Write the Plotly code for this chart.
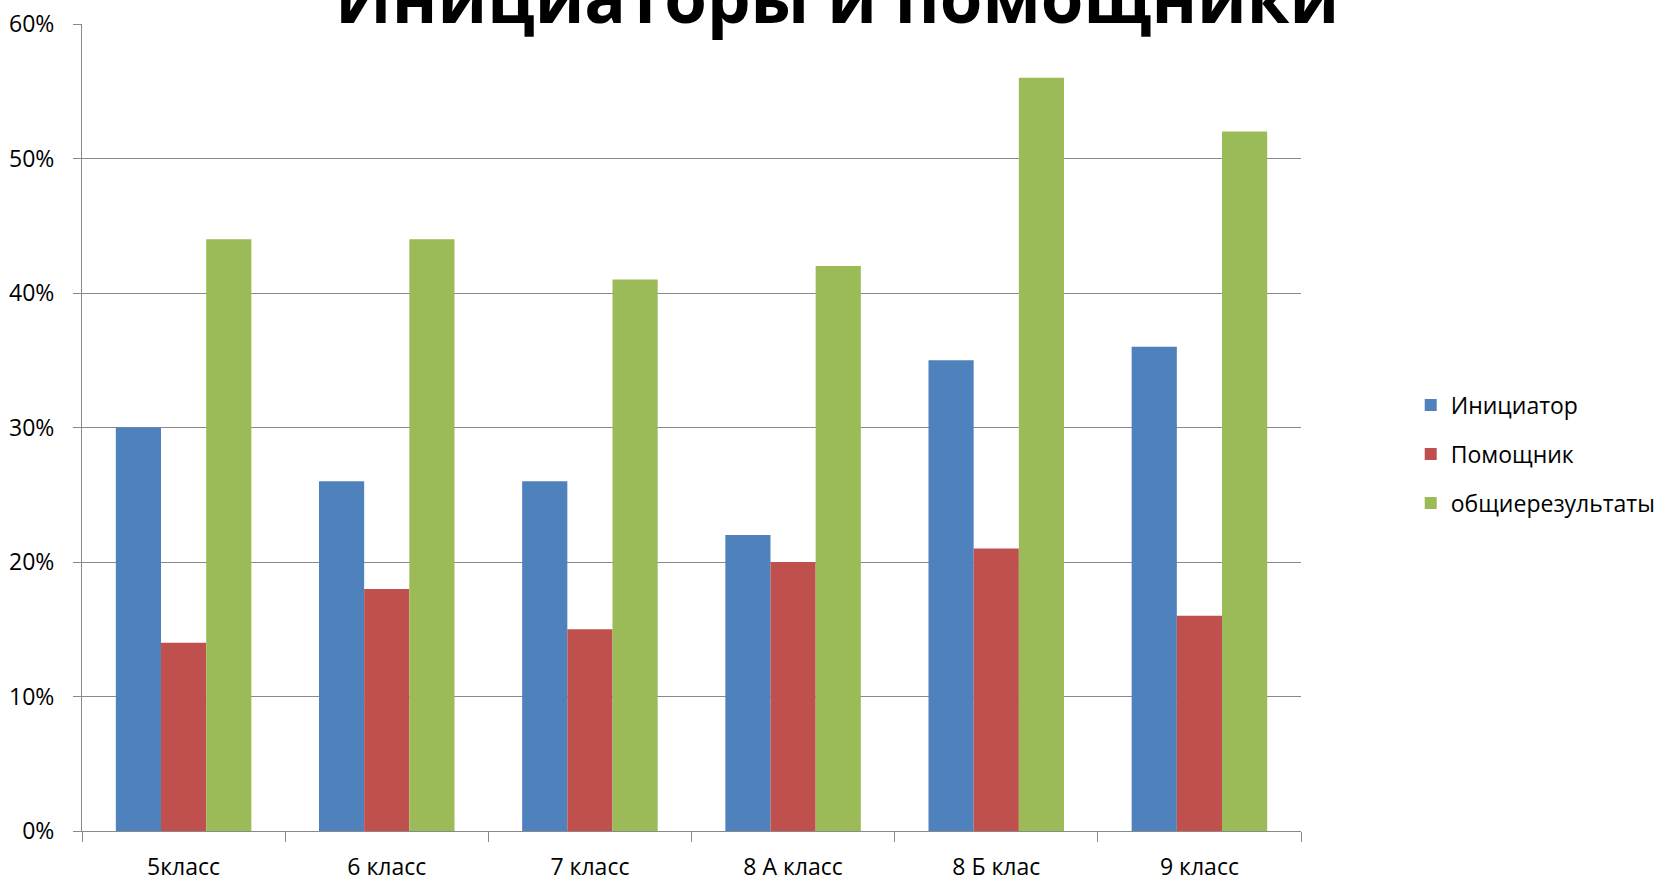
import plotly.graph_objects as go

categories = ["5класс", "6 класс", "7 класс", "8 А класс", "8 Б клас", "9 класс"]
series_names = ["Инициатор", "Помощник", "общиерезультаты"]
initiator = [0.30, 0.26, 0.26, 0.22, 0.35, 0.36]
helper = [0.14, 0.18, 0.15, 0.20, 0.21, 0.16]
overall = [0.44, 0.44, 0.41, 0.42, 0.56, 0.52]
colors = ["#4F81BD", "#C0504D", "#9BBB59"]
title_text = "Инициаторы и помощники"

FONT = "Open Sans"
FS = 23

fig = go.Figure()
for i, (name, vals) in enumerate(zip(series_names, [initiator, helper, overall])):
    fig.add_trace(go.Bar(
        x=categories, y=vals, name=name,
        marker=dict(color=colors[i], line=dict(width=0)),
        legendgroup=name,
    ))

fig.update_layout(
    width=1659, height=877,
    paper_bgcolor="white", plot_bgcolor="white",
    margin=dict(l=82, r=358, t=24, b=46, autoexpand=False),
    barmode="group", bargap=0.333, bargroupgap=0,
    font=dict(family=FONT, size=FS, color="black"),
    showlegend=True,
    legend=dict(
        x=1.090, xanchor="left", y=0.467, yanchor="middle",
        font=dict(family=FONT, size=FS, color="black"),
        tracegroupgap=16, itemwidth=30,
        bgcolor="rgba(0,0,0,0)",
    ),
    annotations=[dict(
        text="<b>" + title_text + "</b>", xref="paper", yref="paper",
        x=0.619, y=1.035, xanchor="center", yanchor="middle",
        showarrow=False, font=dict(family=FONT, size=69, color="black"),
    )],
)

fig.update_xaxes(
    type="category", showline=True, linecolor="#898989", linewidth=1,
    ticks="outside", tickson="boundaries", ticklen=10, tickcolor="#898989",
    showgrid=False, tickfont=dict(family=FONT, size=FS, color="black"),
    ticklabelstandoff=15,
)
fig.update_yaxes(
    range=[0, 0.6], dtick=0.1, tickformat=".0%",
    showline=True, linecolor="#898989", linewidth=1,
    ticks="outside", ticklen=8, tickcolor="#898989",
    showgrid=True, gridcolor="#898989", gridwidth=1, zeroline=False,
    tickfont=dict(family=FONT, size=FS, color="black"),
    ticklabelstandoff=14,
)

fig.write_html(
    "out.html",
    config={"displayModeBar": False},
    post_script="document.body.style.margin='0';document.body.style.overflow='hidden';",
)
